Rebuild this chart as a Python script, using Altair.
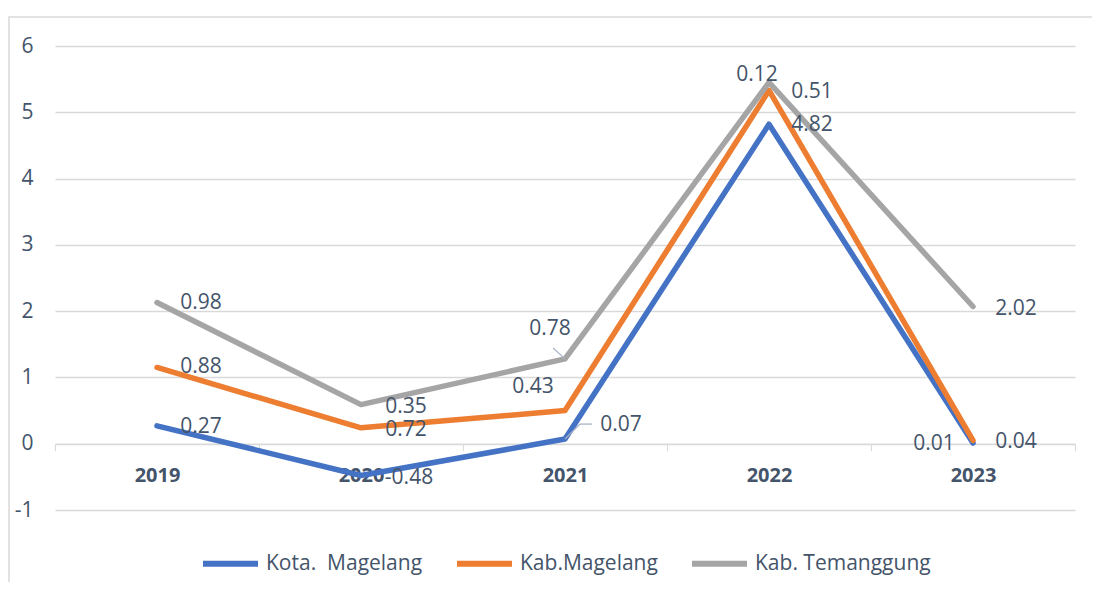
import altair as alt
import pandas as pd
import numpy as np

years = ["2019", "2020", "2021", "2022", "2023"]
series = ["Kota.\u00a0 Magelang", "Kab.Magelang", "Kab. Temanggung"]
kota_magelang = [0.27, -0.48, 0.07, 4.82, 0.01]
kab_magelang = [0.88, 0.72, 0.43, 0.51, 0.04]
kab_temanggung = [0.98, 0.35, 0.78, 0.12, 2.02]
colors = ["#4472C4", "#ED7D31", "#A5A5A5"]

# data-label placement offsets (pixels) per series / year
label_dx = [[44, 48, 56, 43, -39], [44, 45, -32, 43, 43], [44, 45, -15, -12, 43]]
label_dy = [[1, 2, -14, 1, 1], [0, 2, -24, 2, 2], [0, 2, -30, -7, 2]]

vals = np.array([kota_magelang, kab_magelang, kab_temanggung])
cum = np.cumsum(vals, axis=0)  # stacked line chart

rows = []
for i, s in enumerate(series):
    for j, y in enumerate(years):
        rows.append({"series": s, "year": y, "value": vals[i, j],
                     "cum": round(float(cum[i, j]), 2),
                     "label": f"{vals[i, j]:.2f}", "k": f"{i}-{j}"})
df = pd.DataFrame(rows)

TXT = "#44546A"
GRID = "#D9D9D9"
LEADER = "#A6B2C4"
W, H = 1020, 464

x_enc = alt.X("year:N", sort=years,
              scale=alt.Scale(type="band", paddingInner=0, paddingOuter=0),
              axis=alt.Axis(title=None, orient="bottom", offset=-H / 7,
                            domainColor=GRID, tickColor=GRID, tickSize=7,
                            labelFontSize=20, labelFontWeight="bold",
                            labelColor=TXT, labelPadding=15, labelAngle=0,
                            labelAlign="center", bandPosition=0.5,
                            tickBand="extent", grid=False))
y_enc = alt.Y("cum:Q", scale=alt.Scale(domain=[-1, 6], nice=False, zero=False),
              axis=alt.Axis(title=None, values=list(range(-1, 7)),
                            labelExpr="'' + datum.value",
                            domain=False, ticks=False, labelPadding=22,
                            labelFontSize=21, labelColor=TXT,
                            gridColor=GRID, gridWidth=1.3))
color_enc = alt.Color("series:N",
                      scale=alt.Scale(domain=series, range=colors),
                      legend=alt.Legend(title=None, orient="none", direction="horizontal",
                                        legendX=145, legendY=487,
                                        symbolType="stroke", symbolStrokeWidth=6,
                                        symbolSize=3025, labelFontSize=21,
                                        labelColor=TXT, labelOffset=5,
                                        labelLimit=400, columnPadding=22))

base = alt.Chart(df)

border = alt.Chart(pd.DataFrame({"a": [0]})).mark_rect(
    fillOpacity=0, stroke=GRID, strokeWidth=1.5
).encode(x=alt.value(-46), x2=alt.value(1200), y=alt.value(-29), y2=alt.value(800))

layers = [border]

for s in series:
    layers.append(
        base.transform_filter(alt.datum.series == s)
        .mark_line(strokeWidth=5.5, strokeCap="round", strokeJoin="round")
        .encode(x=x_enc, y=y_enc, color=color_enc)
    )

# leader lines for the two displaced labels at 2021
leaders = [(2, 2, -12, -11), (0, 2, 15, -15)]
for i, j, ox, oy in leaders:
    layers.append(
        base.transform_filter(alt.datum.k == f"{i}-{j}")
        .mark_rule(color=LEADER, strokeWidth=1.3, x2Offset=ox, y2Offset=oy)
        .encode(x=x_enc, x2="year:N", y=y_enc, y2="cum:Q")
    )
layers.append(
    base.transform_filter(alt.datum.k == "0-2")
    .mark_rule(color=LEADER, strokeWidth=1.3, xOffset=15, yOffset=-15,
               x2Offset=27, y2Offset=-15)
    .encode(x=x_enc, x2="year:N", y=y_enc, y2="cum:Q")
)

for i in range(len(series)):
    for j in range(len(years)):
        layers.append(
            base.transform_filter(alt.datum.k == f"{i}-{j}")
            .mark_text(dx=label_dx[i][j], dy=label_dy[i][j], fontSize=21,
                       color=TXT, baseline="middle", align="center")
            .encode(x=x_enc, y=y_enc, text="label:N")
        )

chart = alt.layer(*layers).properties(
    width=W, height=H,
    padding={"left": 47, "top": 38, "right": 17, "bottom": 72},
    autosize=alt.AutoSizeParams(type="none"),
).configure(font="Open Sans").configure_view(stroke=None)

chart.save("out.html", embed_options={"renderer": "svg", "actions": False})
